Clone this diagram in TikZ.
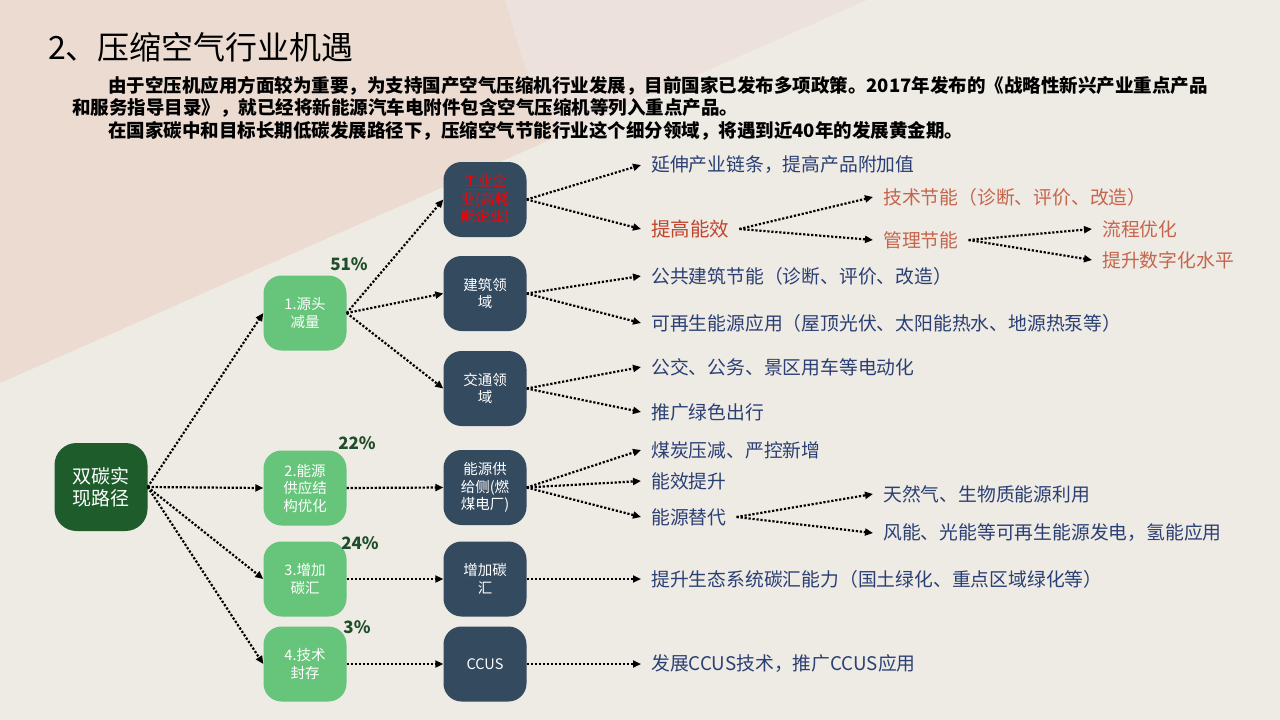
\documentclass[tikz,border=0pt]{standalone}
\usepackage{fontspec}
\setmainfont{Noto Sans CJK SC}
\usetikzlibrary{positioning,arrows.meta}

\definecolor{paper}{HTML}{EEEAE4}
\definecolor{peach}{HTML}{EBDBD1}
\definecolor{blush}{HTML}{EDE1DD}
\definecolor{rootgreen}{HTML}{1F5C2C}
\definecolor{srcgreen}{HTML}{66C57A}
\definecolor{areanavy}{HTML}{344A5F}
\definecolor{itemnavy}{HTML}{2A3F73}
\definecolor{effred}{HTML}{C0452C}
\definecolor{subred}{HTML}{C6644C}
\definecolor{pctgreen}{HTML}{1F4E2A}

\tikzset{
  rootbox/.style={fill=rootgreen, rounded corners=22pt, minimum width=93pt, minimum height=88pt,
    inner sep=0pt, text=white, align=center, font=\fontsize{19}{22}\selectfont},
  srcbox/.style={fill=srcgreen, rounded corners=18pt, minimum width=83pt, minimum height=75pt,
    inner sep=0pt, text=white, align=center, font=\fontsize{14.5}{17.5}\selectfont},
  areabox/.style={srcbox, fill=areanavy},
  item/.style={anchor=west, inner xsep=10pt, inner ysep=2pt, text=itemnavy,
    font=\fontsize{18.8}{21}\selectfont},
  pct/.style={text=pctgreen, font=\bfseries\fontsize{17}{20}\selectfont},
  link/.style={line width=2.2pt, dash pattern=on 2.2pt off 1.8pt, -{Triangle[length=8pt,width=7pt]}},
}

\begin{document}
\begin{tikzpicture}[x=1pt, y=-1pt]
    % Background
    \fill[paper] (0,0) rectangle (1280,720);
    \fill[peach] (0,0) -- (866,0) -- (0,383) -- cycle;
    \fill[blush] (505,0) -- (866,0) -- (561,135) .. controls (528,80) .. (505,0) -- cycle;
    \useasboundingbox (0,0) rectangle (1280,720);

    % Title and introduction
    \node[anchor=west, inner sep=0pt, font=\fontsize{32}{35}\selectfont] (title) at (48,47) {2、压缩空气行业机遇};
    \node[anchor=west, inner sep=0pt, font=\bfseries\fontsize{18.5}{22}\selectfont] (intro1) at (108,86)
      {由于空压机应用方面较为重要，为支持国产空气压缩机行业发展，目前国家已发布多项政策。2017年发布的《战略性新兴产业重点产品};
    \node[anchor=west, inner sep=0pt, font=\bfseries\fontsize{18.5}{22}\selectfont] (intro2) at (72,108)
      {和服务指导目录》，就已经将新能源汽车电附件包含空气压缩机等列入重点产品。};
    \node[anchor=west, inner sep=0pt, font=\bfseries\fontsize{18.5}{22}\selectfont] (intro3) at (108,131)
      {在国家碳中和目标长期低碳发展路径下，压缩空气节能行业这个细分领域，将遇到近40年的发展黄金期。};

    % Root and the four paths
    \node[rootbox] (root) at (101,487) {双碳实\\现路径};
    \foreach \n/\y/\t/\p/\px/\py in {src1/313/{1.源头\\减量}/51\%/349/264,
                                     src2/488/{2.能源\\供应结\\构优化}/22\%/357/443,
                                     src3/579/{3.增加\\碳汇}/24\%/360/543,
                                     src4/664/{4.技术\\封存}/3\%/357/627} {
      \node[srcbox] (\n) at (305,\y) {\t};
      \node[pct] (\n-pct) at (\px,\py) {\p};
      \draw[link] (root.east) -- (\n.west);
    }

    % Fields
    \node[areabox, text=red] (area1) at (485,199.5) {\underline{工业企}\\业(高耗\\能企业)};
    \node[areabox] (area2) at (485,293.5) {建筑领\\域};
    \node[areabox] (area3) at (485,388.5) {交通领\\域};
    \node[areabox] (area4) at (485,487.5) {能源供\\给侧(燃\\煤电厂)};
    \node[areabox] (area5) at (485,579) {增加碳\\汇};
    \node[areabox] (area6) at (485,664) {CCUS};
    \foreach \s/\n in {src1/area1, src1/area2, src1/area3, src2/area4, src3/area5, src4/area6}
      \draw[link] (\s.east) -- (\n.west);

    % Measures
    \foreach \s/\n/\y/\t in {area1/ext/165/延伸产业链条，提高产品附加值,
                             area2/bld1/276/公共建筑节能（诊断、评价、改造）,
                             area2/bld2/323/可再生能源应用（屋顶光伏、太阳能热水、地源热泵等）,
                             area3/trn1/367/公交、公务、景区用车等电动化,
                             area3/trn2/412/推广绿色出行,
                             area4/coal/450/煤炭压减、严控新增,
                             area4/effup/481/能效提升,
                             area4/swap/517/能源替代,
                             area5/sink/579/提升生态系统碳汇能力（国土绿化、重点区域绿化等）,
                             area6/ccus/664/发展CCUS技术，推广CCUS应用} {
      \node[item] (\n) at (641,\y) {\t};
      \draw[link] (\s.east) -- (\n.west);
    }
    \node[item, text=effred, font=\fontsize{19.5}{21}\selectfont] (eff) at (641,229) {提高能效};
    \draw[link] (area1.east) -- (eff.west);

    % Second and third level
    \node[item, text=subred] (tech) at (873,197) {技术节能（诊断、评价、改造）};
    \node[item, text=subred] (mgmt) at (873,240) {管理节能};
    \node[item] (gas) at (873,494) {天然气、生物质能源利用};
    \node[item] (wind) at (873,533) {风能、光能等可再生能源发电，氢能应用};
    \node[item, text=subred] (flow) at (1092,229) {流程优化};
    \node[item, text=subred] (digi) at (1092,260) {提升数字化水平};
    \foreach \s/\n in {eff/tech, eff/mgmt, swap/gas, swap/wind, mgmt/flow, mgmt/digi}
      \draw[link] (\s.east) -- (\n.west);

\end{tikzpicture}
\end{document}
